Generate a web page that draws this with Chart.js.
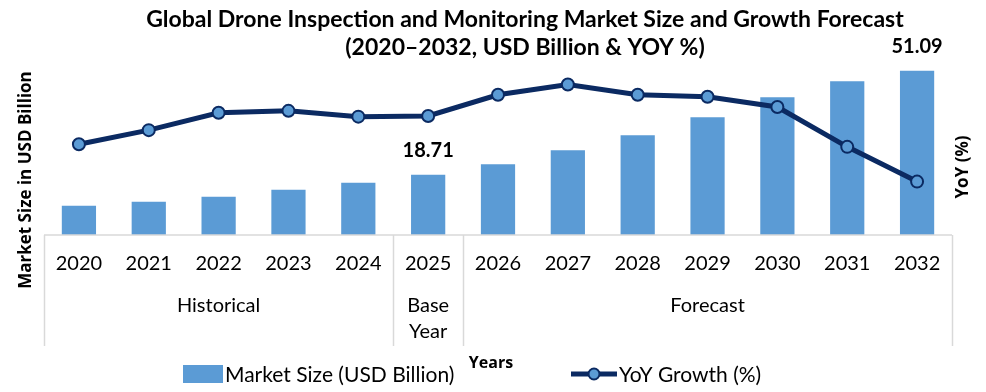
<!DOCTYPE html>
<html>
<head>
<meta charset="utf-8">
<script src="https://cdn.jsdelivr.net/npm/chart.js@4.4.1/dist/chart.umd.min.js"></script>
<style>
  html, body { margin: 0; padding: 0; background: #fff; }
  #myCanvas { display: block; }
</style>
</head>
<body>
<canvas id="myCanvas" width="986" height="392"></canvas>
<script>
const years = ["2020", "2021", "2022", "2023", "2024", "2025", "2026", "2027", "2028", "2029", "2030", "2031", "2032"];
const marketSize = [9.09, 10.33, 11.88, 14.06, 16.23, 18.71, 22.03, 26.37, 31.03, 36.61, 42.82, 47.78, 51.09];
const yoyGrowth = [14.1, 16.3, 19.0, 19.3, 18.4, 18.5, 21.8, 23.4, 21.8, 21.5, 19.9, 13.7, 8.3];
const labelledYears = ["2025", "2032"];
const periods = [
  { name: ["Historical"], from: 0, to: 4 },
  { name: ["Base", "Year"], from: 5, to: 5 },
  { name: ["Forecast"], from: 6, to: 12 },
];

const titleLines = ["Global Drone Inspection and Monitoring Market Size and Growth Forecast", "(2020\u20132032, USD Billion & YOY %)"];
const barColor = "#5b9bd5";
const lineColor = "#0b2a62";
const gridGray = "#d9d9d9";
const font = "Lato, 'Noto Sans', sans-serif";

// everything around the plot: titles, category box, labels, legend
const decor = {
  id: "decor",
  afterDraw(chart) {
    const { ctx, chartArea: area, scales } = chart;
    const x = scales.x;
    const half = (x.getPixelForValue(1) - x.getPixelForValue(0)) / 2;
    const bottom = area.bottom;
    ctx.save();

    // category box
    ctx.strokeStyle = gridGray;
    ctx.lineWidth = 1.5;
    ctx.beginPath();
    ctx.moveTo(area.left, bottom);
    ctx.lineTo(area.right, bottom);
    const edges = [area.left, area.right];
    periods.slice(1).forEach(p => edges.push(x.getPixelForValue(p.from) - half));
    edges.forEach(ex => {
      ctx.moveTo(Math.round(ex) + 0.5, bottom);
      ctx.lineTo(Math.round(ex) + 0.5, bottom + 111);
    });
    ctx.stroke();

    ctx.fillStyle = "#000";
    ctx.textAlign = "center";
    ctx.textBaseline = "middle";

    // years
    ctx.font = "20px " + font;
    years.forEach((y, i) => ctx.fillText(y, x.getPixelForValue(i), bottom + 29));

    // periods
    periods.forEach(p => {
      const cx = (x.getPixelForValue(p.from) + x.getPixelForValue(p.to)) / 2;
      p.name.forEach((t, k) => ctx.fillText(t, cx, bottom + 71 + k * 26));
    });

    // value labels
    const meta = chart.getDatasetMeta(0);
    ctx.font = "bold 20px " + font;
    labelledYears.forEach(y => {
      const i = years.indexOf(y);
      const bar = meta.data[i];
      ctx.fillText(marketSize[i].toFixed(2), bar.x, bar.y - 24);
    });

    // title
    ctx.font = "bold 23px " + font;
    ctx.fillText(titleLines[0], 525, 20);
    ctx.fillText(titleLines[1], 525, 48);

    // axis titles
    ctx.font = "bold 17px 'Open Sans', sans-serif";
    ctx.save();
    ctx.translate(26, 180);
    ctx.rotate(-Math.PI / 2);
    ctx.fillText("Market Size in USD Billion", 0, 0);
    ctx.restore();
    ctx.save();
    ctx.translate(963, 167);
    ctx.rotate(-Math.PI / 2);
    ctx.fillText("YoY (%)", 0, 0);
    ctx.restore();
    ctx.font = "bold 16px 'Open Sans', sans-serif";
    ctx.fillText("Years", 491, 363);

    // legend
    const ly = 374;
    ctx.fillStyle = barColor;
    ctx.fillRect(183, ly - 9, 40, 18);
    ctx.strokeStyle = lineColor;
    ctx.lineWidth = 5;
    ctx.beginPath();
    ctx.moveTo(571, ly);
    ctx.lineTo(617, ly);
    ctx.stroke();
    ctx.beginPath();
    ctx.arc(594, ly, 5.5, 0, Math.PI * 2);
    ctx.fillStyle = barColor;
    ctx.fill();
    ctx.lineWidth = 2;
    ctx.stroke();
    ctx.fillStyle = "#000";
    ctx.textAlign = "left";
    ctx.font = "21px " + font;
    ctx.fillText("Market Size (USD Billion)", 225, ly + 1);
    ctx.fillText("YoY Growth (%)", 619, ly + 1);

    ctx.restore();
  },
};

const canvas = document.getElementById("myCanvas");
const ctx = canvas.getContext("2d");

new Chart(ctx, {
  type: "bar",
  data: {
    labels: years,
    datasets: [
      {
        type: "bar",
        label: "Market Size (USD Billion)",
        data: marketSize,
        backgroundColor: barColor,
        categoryPercentage: 1,
        barPercentage: 0.49,
        yAxisID: "y",
        order: 2,
      },
      {
        type: "line",
        label: "YoY Growth (%)",
        data: yoyGrowth,
        borderColor: lineColor,
        borderWidth: 5,
        pointRadius: 6,
        pointBackgroundColor: barColor,
        pointBorderColor: lineColor,
        pointBorderWidth: 2,
        tension: 0,
        yAxisID: "y2",
        order: 1,
      },
    ],
  },
  options: {
    responsive: false,
    animation: false,
    layout: { padding: { left: 44, right: 34, top: 42, bottom: 157 } },
    plugins: {
      legend: { display: false },
      title: { display: false },
      tooltip: { enabled: false },
    },
    scales: {
      x: { display: false },
      y: { display: false, min: 0, max: 60 },
      y2: { display: false, min: 0, max: 30 },
    },
  },
  plugins: [decor],
});
</script>
</body>
</html>
